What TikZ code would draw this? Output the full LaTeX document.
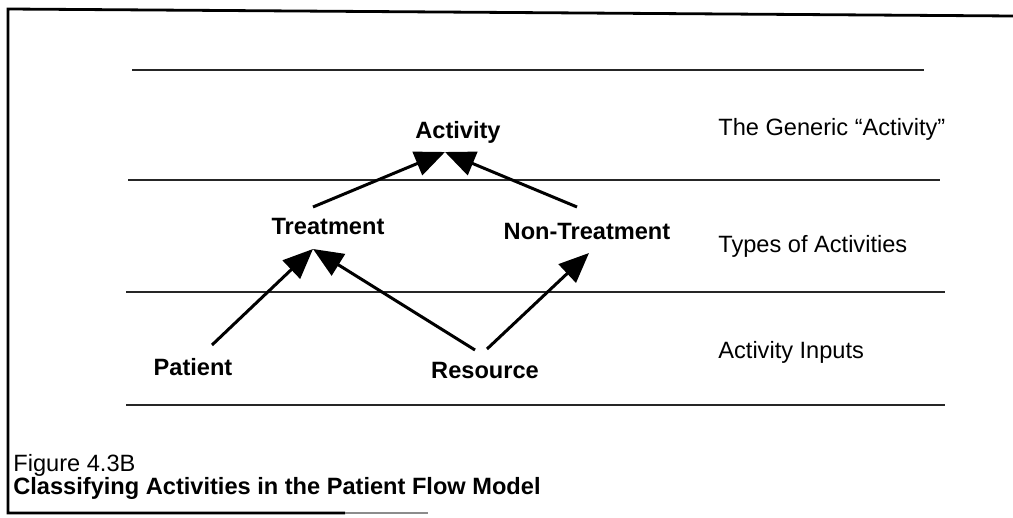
\documentclass[tikz,border=0pt]{standalone}
\usepackage{fontspec}
\setmainfont{Liberation Sans}
\usetikzlibrary{arrows.meta}
\begin{document}
\begin{tikzpicture}[x=0.5pt,y=-0.5pt,
  lbl/.style={inner sep=0pt,font=\fontsize{11.8}{14}\selectfont\bfseries},
  side/.style={inner sep=0pt,anchor=west,font=\fontsize{11.8}{14}\selectfont},
  captext/.style={inner sep=0pt,anchor=west,font=\fontsize{11.8}{14}\selectfont},
  rule/.style={line width=0.7pt,black!85},
  frame/.style={line width=1.4pt},
  link/.style={line width=1.5pt,-{Triangle[length=15pt,width=12.5pt]}}]
\useasboundingbox (0,0) rectangle (1013,518);

% partial frame
\draw[frame] (1013,16) -- (8,9) -- (8,513) -- (345,513);
\draw[line width=1pt,black!45] (345,513) -- (428,513);

% level separators
\draw[rule] (132,70) -- (924,70);
\draw[rule] (128,180) -- (940,180);
\draw[rule] (126,292) -- (945,292);
\draw[rule] (126,405) -- (945,405);

% hierarchy nodes
\node[lbl] (act) at (458,132) {Activity};
\node[lbl] (treat) at (328,226) {Treatment};
\node[lbl] (nontreat) at (587,231) {Non-Treatment};
\node[lbl] (patient) at (193,367) {Patient};
\node[lbl] (resource) at (485,370) {Resource};

% level labels
\node[side] (lvlA) at (718,129) {The Generic “Activity”};
\node[side] (lvlB) at (718,246) {Types of Activities};
\node[side] (lvlC) at (718,352) {Activity Inputs};

% connectors
\draw[link] ([shift={(-15,-19)}]treat.center) -- ([shift={(-13,20)}]act.center);
\draw[link] ([shift={(-10,-24)}]nontreat.center) -- ([shift={(-13,20)}]act.center);
\draw[link] ([shift={(19,-22)}]patient.center) -- ([shift={(-15,23)}]treat.center);
\draw[link] ([shift={(-10,-20)}]resource.center) -- ([shift={(-15,23)}]treat.center);
\draw[link] ([shift={(2,-21)}]resource.center) -- ([shift={(2,22)}]nontreat.center);

% caption
\node[captext] (fignum) at (13,465) {Figure 4.3B};
\node[captext,font=\fontsize{11.8}{14}\selectfont\bfseries] (figtitle) at (13,488) {Classifying Activities in the Patient Flow Model};
\end{tikzpicture}
\end{document}
